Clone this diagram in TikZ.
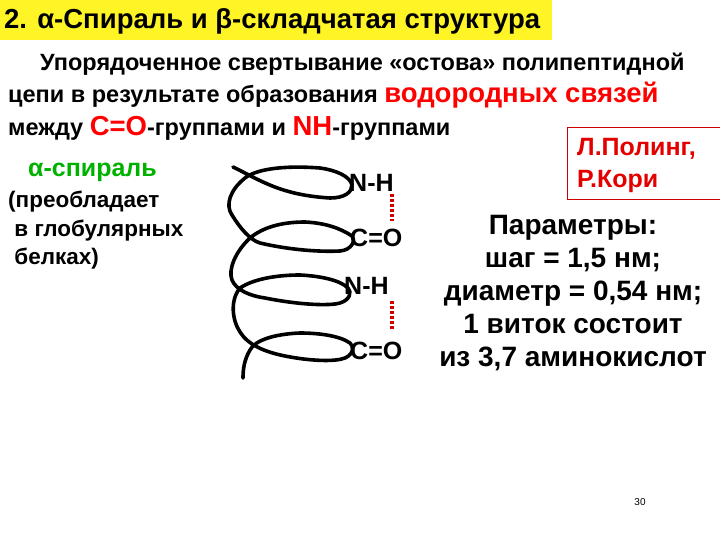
\documentclass[tikz,border=0pt]{standalone}
\usepackage{fontspec}
\setmainfont{Liberation Sans}
\begin{document}
\begin{tikzpicture}[x=1pt,y=-1pt,font=\bfseries,
  txt/.style={inner sep=0pt,anchor=west},
  chain/.style={line width=3.6pt,line join=round,line cap=round},
  hb/.style={red!80!black,line width=4pt,dash pattern=on 3pt off 2pt}]
\useasboundingbox (0,0) rectangle (720,540);
\fill[yellow!85!white] (0,0) rectangle (552,40);
\node[txt,font=\fontsize{27.5}{30}\bfseries] (title) at (4,21) {2. α-Спираль и β-складчатая структура};
\node[txt,font=\fontsize{23.5}{26}\bfseries] (l1) at (40,64) {Упорядоченное свертывание «остова» полипептидной};
\node[txt,font=\fontsize{23.5}{26}\bfseries] (l2) at (8,95) {цепи в результате образования \textcolor{red}{\fontsize{27.5}{30}\selectfont водородных связей}};
\node[txt,font=\fontsize{23.5}{26}\bfseries] (l3) at (8,128) {между \textcolor{red}{\fontsize{27.5}{30}\selectfont C=O}-группами и \textcolor{red}{\fontsize{27.5}{30}\selectfont NH}-группами};
\draw[red!80!black,line width=1pt] (567,128) rectangle (720,200);
\node[txt,font=\fontsize{25}{32}\bfseries,text=red!90!black,align=left,anchor=north west] (auth) at (577,138) {Л.Полинг,\\Р.Кори};
\node[txt,font=\fontsize{25}{28}\bfseries,text=green!70!black] (alpha) at (28,172) {α-спираль};
\node[txt,font=\fontsize{22.5}{28.5}\bfseries\selectfont,align=left,anchor=north west] (pr) at (8,191) {(преобладает\\\ в глобулярных\\\ белках)};
% helix
\draw[chain] (233,167) .. controls (260,180) and (280,195) .. (330,198)
  .. controls (345,198) and (352,192) .. (352,185)
  .. controls (350,176) and (335,170) .. (320,168)
  .. controls (280,165) and (255,170) .. (245,178)
  .. controls (230,190) and (225,205) .. (232,215)
  .. controls (240,228) and (250,240) .. (260,243)
  .. controls (290,250) and (320,252) .. (340,251)
  .. controls (352,250) and (356,240) .. (352,236)
  .. controls (340,228) and (325,223) .. (305,222)
  .. controls (280,222) and (262,228) .. (250,238)
  .. controls (235,252) and (228,270) .. (232,280)
  .. controls (236,290) and (250,296) .. (265,298)
  .. controls (300,305) and (330,306) .. (340,303)
  .. controls (350,300) and (352,292) .. (348,288)
  .. controls (340,280) and (320,276) .. (300,275)
  .. controls (280,275) and (255,278) .. (240,288)
  .. controls (230,300) and (232,320) .. (240,332)
  .. controls (248,345) and (265,352) .. (285,356)
  .. controls (310,361) and (335,362) .. (345,358)
  .. controls (354,354) and (354,346) .. (350,343)
  .. controls (340,336) and (320,333) .. (300,333)
  .. controls (275,334) and (255,340) .. (250,350)
  .. controls (244,360) and (243,370) .. (243,378);
\node[txt,font=\fontsize{25}{28}\bfseries] (nh1) at (349,183) {N-H};
\node[txt,font=\fontsize{25}{28}\bfseries] (co1) at (350,238) {C=O};
\node[txt,font=\fontsize{25}{28}\bfseries] (nh2) at (344,286) {N-H};
\node[txt,font=\fontsize{25}{28}\bfseries] (co2) at (350,351) {C=O};
\draw[hb] (392,194) -- (392,221);
\draw[hb] (392,301) -- (392,330);
\node[font=\fontsize{28}{33}\bfseries,align=center,anchor=north] (par) at (573,212) {Параметры:\\шаг = 1,5 нм;\\диаметр = 0,54 нм;\\1 виток состоит\\из 3,7 аминокислот};
\node[font=\fontsize{10}{12}\selectfont\mdseries] (pg) at (640,502) {30};
\end{tikzpicture}
\end{document}
